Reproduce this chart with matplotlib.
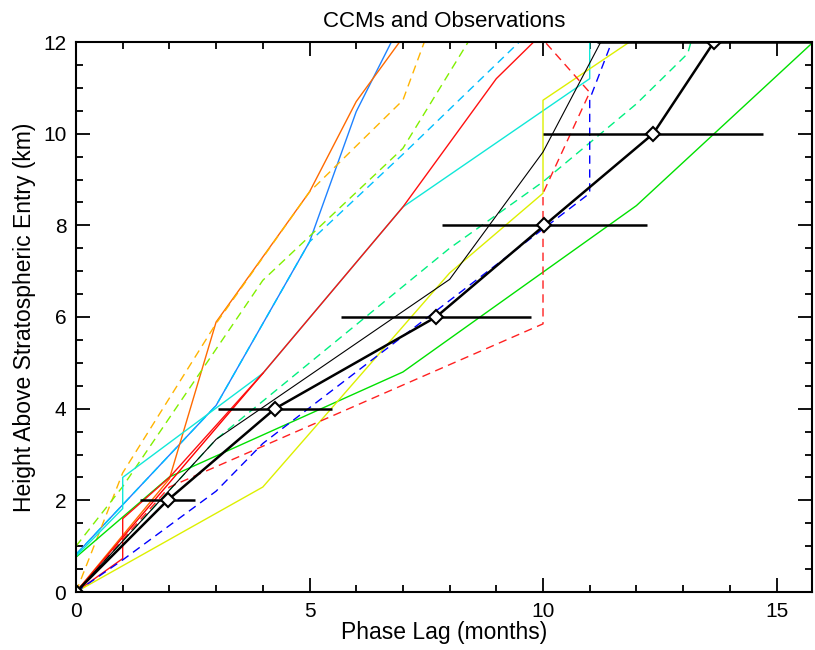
import matplotlib
matplotlib.use("Agg")
import matplotlib.pyplot as plt

plt.rcParams['font.family'] = ['Liberation Sans', 'DejaVu Sans']

# model curves: phase lag (months) vs height (km)
orange_x = [0, 2, 3, 5, 6, 7]
orange_y = [0, 2.47, 5.89, 8.73, 10.7, 12.1]

blue_x = [0, 3, 5, 6, 7]
blue_y = [0.82, 4.07, 7.64, 10.48, 12.5]

gold_dash_x = [0, 1, 3, 5, 7, 8]
gold_dash_y = [0, 2.6, 5.86, 8.73, 10.73, 13.5]

chart_dash_x = [0, 1, 4, 7, 9]
chart_dash_y = [1.0, 2.3, 6.8, 9.68, 13.0]

sky_dash_x = [0, 3, 5, 7, 10]
sky_dash_y = [0.82, 4.07, 7.64, 9.55, 12.5]

red_x = [0, 1, 1, 2, 4, 7, 9, 10]
red_y = [0, 0.73, 1.6, 2.5, 4.77, 8.4, 11.2, 12.2]

red2_x = [0, 4]
red2_y = [0, 4.77]

cyan_x = [0, 1, 1, 4, 7, 11, 11]
cyan_y = [0.78, 1.82, 2.5, 4.77, 8.4, 11.2, 12.5]

green_x = [0, 0, 2, 7, 12, 16]
green_y = [0, 0.76, 2.51, 4.8, 8.43, 12.2]

yellow_x = [0, 4, 8, 10, 10, 12]
yellow_y = [0, 2.29, 6.96, 8.7, 10.73, 12.1]

black_x = [0, 3, 8, 10, 12]
black_y = [0, 3.33, 6.82, 9.6, 13.48]

spring_dash_x = [0, 3, 8, 10, 12, 13.1, 13.25]
spring_dash_y = [0, 3.33, 7.5, 8.95, 10.65, 11.75, 12.3]

blue_dash_x = [0, 1, 3, 4, 11, 11, 12]
blue_dash_y = [0, 0.7, 2.2, 3.24, 8.7, 10.75, 13.4]

red_dash_x = [0, 2, 10, 10, 11, 10]
red_dash_y = [0, 2.29, 5.85, 8.7, 10.9, 12.05]

# observations
obs_lag = [0, 1.96, 4.26, 7.71, 10.03, 12.36, 13.66]
obs_height = [0, 2, 4, 6, 8, 10, 12]
obs_err = [0, 0.59, 1.22, 2.04, 2.2, 2.35, 2.5]

fig = plt.figure(figsize=(8.15, 6.5), dpi=100)
ax = fig.add_axes([76 / 815, 58 / 650, 736 / 815, 550 / 650])

dash = (0, (6, 4))
models = [
    (blue_x, blue_y, '#1E82FF', '-'),
    (sky_dash_x, sky_dash_y, '#00BFFF', dash),
    (orange_x, orange_y, '#FF6A00', '-'),
    (gold_dash_x, gold_dash_y, '#FFB400', dash),
    (chart_dash_x, chart_dash_y, '#80F000', dash),
    (green_x, green_y, '#00E000', '-'),
    (cyan_x, cyan_y, '#10E8D8', '-'),
    (red2_x, red2_y, '#FF0000', '-'),
    (red_x, red_y, '#FF1010', '-'),
    (yellow_x, yellow_y, '#DDF000', '-'),
    (spring_dash_x, spring_dash_y, '#00F080', dash),
    (blue_dash_x, blue_dash_y, '#0000FF', dash),
    (red_dash_x, red_dash_y, '#FF2020', dash),
    (black_x, black_y, '#000000', '-'),
]
for xs, ys, col, ls in models:
    lw = 0.8 if col == '#000000' else 1.0
    ax.plot(xs, ys, color=col, linestyle=ls, linewidth=lw)

ax.errorbar(obs_lag, obs_height, xerr=obs_err, color='black', linewidth=1.8,
            elinewidth=1.8, capsize=0, marker='D', markersize=7,
            markerfacecolor='white', markeredgecolor='black', markeredgewidth=1.5)

ax.set_xlim(0, 15.76)
ax.set_ylim(0, 12)
ax.set_xticks([0, 5, 10, 15])
ax.set_xticks(range(0, 16), minor=True)
ax.set_yticks([0, 2, 4, 6, 8, 10, 12])
ax.set_yticks([i * 0.5 for i in range(25)], minor=True)
ax.tick_params(which='both', direction='in', top=True, right=True,
               labelsize=15, width=1.3, pad=7)
ax.tick_params(which='major', length=10)
ax.tick_params(which='minor', length=5)
for s in ax.spines.values():
    s.set_linewidth(1.5)

ax.set_title('CCMs and Observations', fontsize=16, pad=11)
ax.set_xlabel('Phase Lag (months)', fontsize=16.5, labelpad=0)
ax.set_ylabel('Height Above Stratospheric Entry (km)', fontsize=16.5, labelpad=5)

fig.savefig('out.png', dpi=100)
